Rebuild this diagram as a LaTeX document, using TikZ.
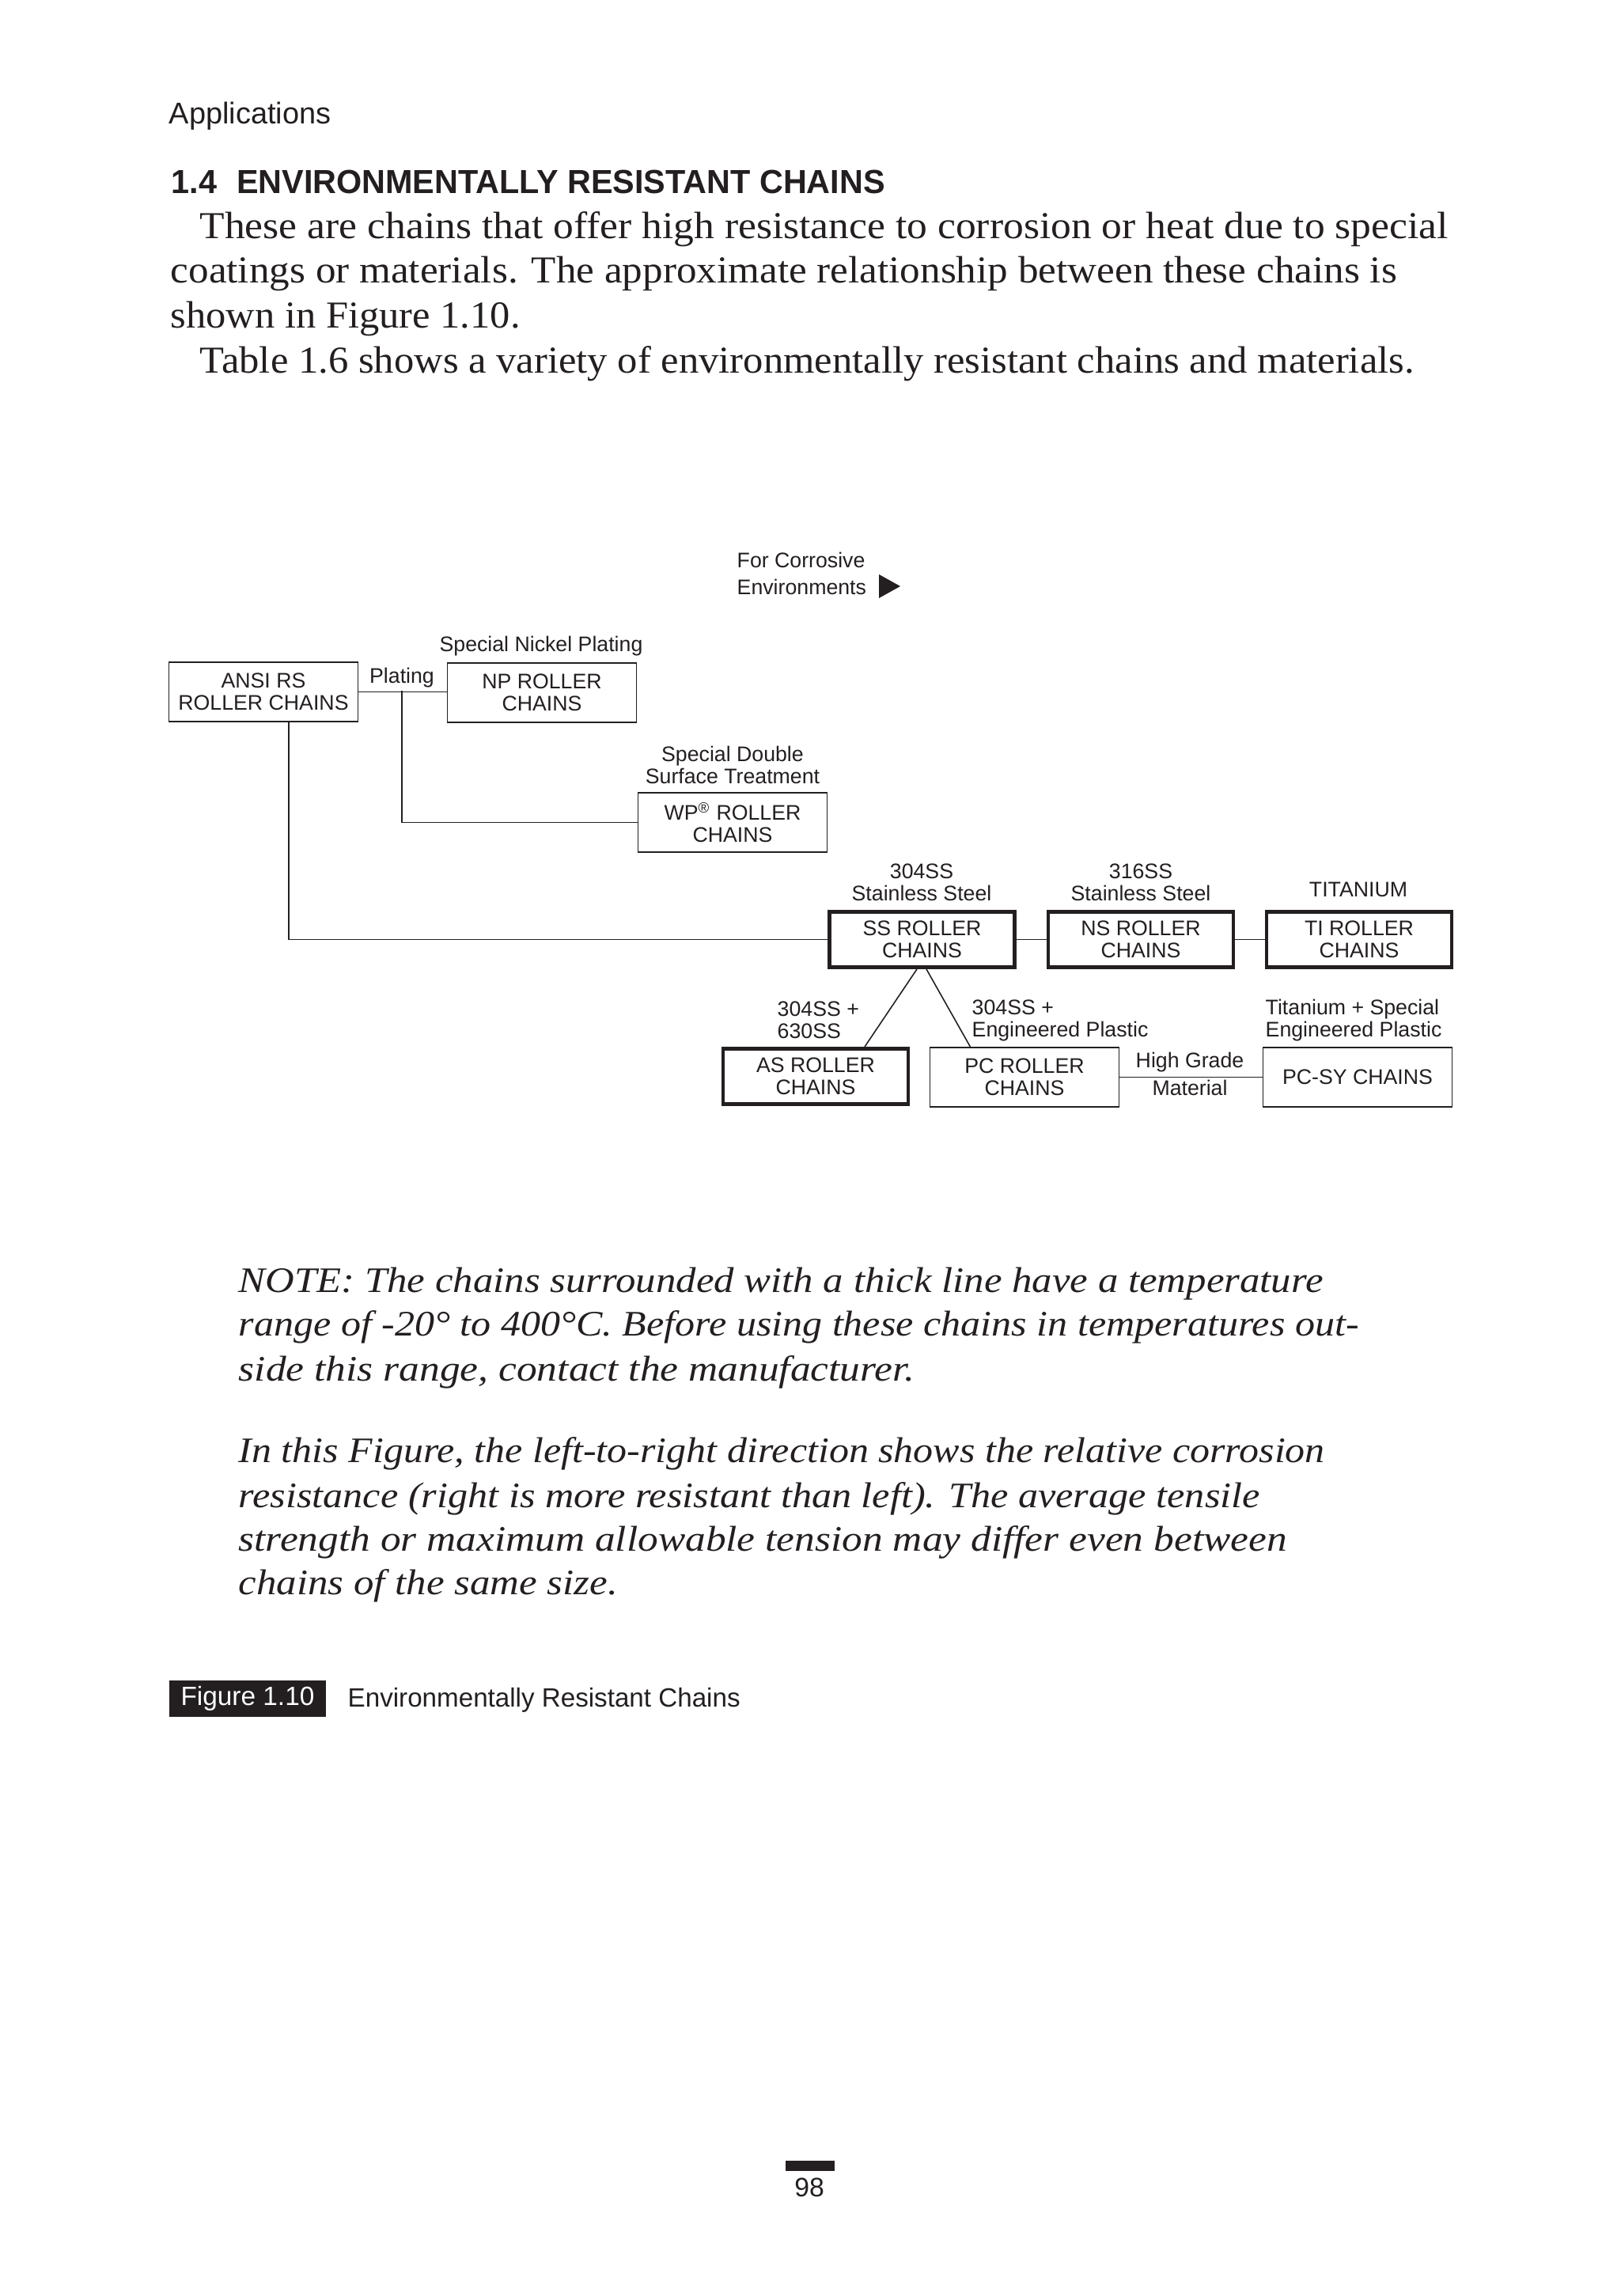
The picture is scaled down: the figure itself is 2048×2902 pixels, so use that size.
\documentclass[tikz,border=0pt]{standalone}
\usepackage{fontspec}
\setmainfont{Liberation Serif}
\setsansfont{Liberation Sans}
\definecolor{ink}{HTML}{231F20}
\newlength{\pxu}\setlength{\pxu}{0.1mm}
\newcommand{\fitto}[2]{\resizebox{#1\pxu}{\height}{#2}}

\begin{document}
\begin{tikzpicture}[x=0.1mm,y=-0.1mm,
  txt/.style={anchor=base west,inner sep=0,text=ink},
  body/.style={txt,font=\fontsize{13.7}{16}\selectfont},
  note/.style={txt,font=\fontsize{12.9}{16}\selectfont\itshape},
  lbl/.style={anchor=base,inner sep=0,align=center,text=ink,font=\sffamily\fontsize{7.6}{7.7}\selectfont},
  chain/.style={draw=ink,line width=0.45pt,minimum width=23.9mm,minimum height=7.5mm,inner sep=0,align=center,text=ink,font=\sffamily\fontsize{7.6}{7.9}\selectfont},
  heavy/.style={chain,line width=1.4pt,minimum width=23.4mm,minimum height=7mm},
  link/.style={draw=ink,line width=0.45pt}]
\useasboundingbox (0,0) rectangle (2048,2902);

% page head and text
\node[txt,font=\sffamily\fontsize{10.8}{13}\selectfont] (runhead) at (213,157) {Applications};
\node[txt,font=\sffamily\bfseries\fontsize{12}{14}\selectfont] (head) at (216,245) {\fitto{902}{1.4\hspace{0.6em}ENVIRONMENTALLY RESISTANT CHAINS}};
\node[body] (b1) at (252,302) {\fitto{1578}{These are chains that offer high resistance to corrosion or heat due to special}};
\node[body] (b2) at (215,358) {\fitto{1550}{coatings or materials. The approximate relationship between these chains is}};
\node[body] (b3) at (215,415) {\fitto{442}{shown in Figure 1.10.}};
\node[body] (b4) at (252,472) {\fitto{1535}{Table 1.6 shows a variety of environmentally resistant chains and materials.}};

% chains
\node[chain] (ansi) at (333,874.5) {ANSI RS\\ROLLER CHAINS};
\node[chain] (np) at (685,875.5) {NP ROLLER\\CHAINS};
\node[chain] (wp) at (926,1039.5) {WP\textsuperscript{®} ROLLER\\CHAINS};
\node[heavy] (ss) at (1165.5,1187.5) {SS ROLLER\\CHAINS};
\node[heavy] (ns) at (1442,1187.5) {NS ROLLER\\CHAINS};
\node[heavy] (ti) at (1718,1187.5) {TI ROLLER\\CHAINS};
\node[heavy] (as) at (1031,1360.5) {AS ROLLER\\CHAINS};
\node[chain] (pc) at (1295,1361.5) {PC ROLLER\\CHAINS};
\node[chain] (pcsy) at (1716,1361.5) {PC-SY CHAINS};

% labels
\node[lbl,anchor=base west,align=left,font=\sffamily\fontsize{7.6}{9.4}\selectfont] (corr) at (931,751) {For Corrosive\\Environments};
\fill[ink] (1111,726) -- (1138,741) -- (1111,756) -- cycle;
\node[lbl] (plat) at (508,863) {Plating};
\node[lbl] (nickel) at (684,823) {Special Nickel Plating};
\node[lbl] (double) at (926,990) {Special Double\\Surface Treatment};
\node[lbl] (ss304) at (1165,1138) {304SS\\Stainless Steel};
\node[lbl] (ss316) at (1442,1138) {316SS\\Stainless Steel};
\node[lbl] (titan) at (1717,1133) {TITANIUM};
\node[lbl,anchor=base west,align=left] (ss630) at (982,1312) {304SS +\\630SS};
\node[lbl,anchor=base west,align=left] (ssplast) at (1228,1310) {304SS +\\Engineered Plastic};
\node[lbl,anchor=base west,align=left] (tiplast) at (1599,1310) {Titanium + Special\\Engineered Plastic};
\node[lbl] (grade) at (1504,1349) {High Grade};
\node[lbl] (mat) at (1504,1384) {Material};

% connectors
\coordinate (fork) at (508,873);
\draw[link] (ansi.east) -- (ansi.east -| np.west);
\draw[link] (fork) |- (wp.west);
\draw[link] ([xshift=3.2mm]ansi.south) |- (ss.west);
\draw[link] (ss.east) -- (ns.west);
\draw[link] (ns.east) -- (ti.west);
\draw[link] ([xshift=-0.65mm]ss.south) -- ([xshift=6.2mm]as.north);
\draw[link] ([xshift=0.55mm]ss.south) -- ([xshift=-6.85mm]pc.north);
\draw[link] (pc.east) -- (pcsy.west);

% note
\node[note] (n1) at (301,1633) {\fitto{1371}{NOTE: The chains surrounded with a thick line have a temperature}};
\node[note] (n2) at (301,1688) {\fitto{1416}{range of -20° to 400°C. Before using these chains in temperatures out-}};
\node[note] (n3) at (301,1745) {\fitto{854}{side this range, contact the manufacturer.}};
\node[note] (n4) at (301,1848) {\fitto{1373}{In this Figure, the left-to-right direction shows the relative corrosion}};
\node[note] (n5) at (301,1905) {\fitto{1291}{resistance (right is more resistant than left). The average tensile}};
\node[note] (n6) at (301,1960) {\fitto{1325}{strength or maximum allowable tension may differ even between}};
\node[note] (n7) at (301,2015) {\fitto{479}{chains of the same size.}};

% caption and folio
\node[fill=ink,text=white,inner sep=0,minimum width=19.8mm,minimum height=4.6mm,font=\sffamily\fontsize{9.5}{11}\selectfont] (figtag) at (313,2147) {Figure 1.10};
\node[txt,font=\sffamily\fontsize{9.5}{11}\selectfont] (figcap) at (439,2157) {\fitto{496}{Environmentally Resistant Chains}};
\fill[ink] (993,2731) rectangle (1055,2744);
\node[lbl,font=\sffamily\fontsize{9.6}{11}\selectfont] (folio) at (1023,2776) {98};
\end{tikzpicture}
\end{document}
